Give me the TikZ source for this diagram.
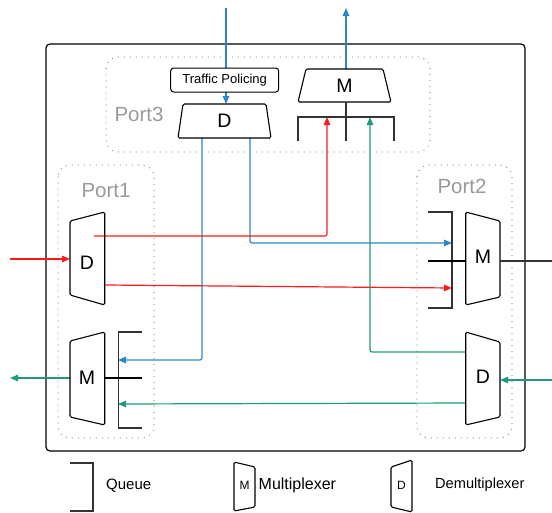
\documentclass[tikz,border=0pt]{standalone}
\usepackage{fontspec}
\setmainfont{Liberation Sans}
\usetikzlibrary{arrows.meta}
\definecolor{cblue}{HTML}{2A88C8}
\definecolor{cteal}{HTML}{1F9A7C}
\definecolor{cred}{HTML}{FF1A1A}
\definecolor{portgray}{HTML}{9A9A9A}
\definecolor{dotgray}{HTML}{8A8A8A}
\definecolor{qgray}{HTML}{333333}
\begin{document}
\begin{tikzpicture}[x=1pt,y=-1pt,
  flow/.style={line width=1.2pt,rounded corners=2pt},
  tipped/.style={-{Triangle[length=8pt,width=6.5pt]}},
  shapebox/.style={draw=black,line width=1.1pt,rounded corners=1.5pt},
  portbox/.style={draw=dotgray,line width=1.3pt,line cap=round,dash pattern=on 0pt off 6pt,rounded corners=12pt},
  portlabel/.style={text=portgray,font=\fontsize{20.5}{23}\selectfont,inner sep=0pt},
  big/.style={font=\fontsize{19.5}{22}\selectfont,inner sep=0pt},
  small/.style={font=\fontsize{12}{14}\selectfont,inner sep=0pt},
  queueline/.style={draw=qgray,line width=1.4pt},
  legend/.style={font=\fontsize{15}{18}\selectfont,anchor=west,inner sep=0pt}]
\useasboundingbox (0,0) rectangle (552,512);

% outer box
\draw[line width=1.2pt,rounded corners=4pt] (46,44) rectangle (525,451);

% ports
\draw[portbox] (106,57) rectangle (430,152);
\draw[portbox] (58,165) rectangle (154,438);
\draw[portbox] (417,165) rectangle (512,438);
\node[portlabel] (lp3) at (139,114) {Port3};
\node[portlabel] (lp1) at (106,191) {Port1};
\node[portlabel] (lp2) at (462,186) {Port2};

% coordinates
\coordinate (inTop) at (226,8);
\coordinate (p3Din) at (226,104);
\coordinate (p3Dout1) at (202,138);
\coordinate (p3Dout2) at (250,138);
\coordinate (p3Mout) at (346,69);
\coordinate (outTop) at (346,8);
\coordinate (p3Qred) at (327,117);
\coordinate (p3Qteal) at (370,117);
\coordinate (inLeft) at (10,259);
\coordinate (p1Din) at (70,259);
\coordinate (p1Dout1) at (94,236);
\coordinate (p1Dout2) at (105,285);
\coordinate (p1Mout) at (70,378);
\coordinate (outLeft) at (10,378);
\coordinate (p1Qblue) at (118,360);
\coordinate (p1Qteal) at (118,404);
\coordinate (p2Qblue) at (452,243);
\coordinate (p2Qred) at (452,288);
\coordinate (p2Mout) at (500,261);
\coordinate (outRight) at (552,261);
\coordinate (inRight) at (552,380);
\coordinate (p2Din) at (500,380);
\coordinate (p2Dout1) at (466,352);
\coordinate (p2Dout2) at (466,403);

% flows
\draw[flow,cblue,tipped] (inTop) -- (p3Din);
\draw[flow,cblue,tipped] (p3Mout) -- (outTop);
\draw[flow,cblue,tipped] (p3Dout1) |- (p1Qblue);
\draw[flow,cblue,tipped] (p3Dout2) |- (p2Qblue);
\draw[flow,cred,tipped] (inLeft) -- (p1Din);
\draw[flow,cred,tipped] (p1Dout1) -| (p3Qred);
\draw[flow,cred,tipped] (p1Dout2) -- (p2Qred);
\draw[flow,cteal,tipped] (inRight) -- (p2Din);
\draw[flow,cteal,tipped] (p2Dout1) -| (p3Qteal);
\draw[flow,cteal,tipped] (p2Dout2) -- (p1Qteal);
\draw[flow,cteal,tipped] (p1Mout) -- (outLeft);

% traffic policing
\node[draw=black,fill=white,line width=1pt,rounded corners=3pt,minimum width=108pt,minimum height=24pt,inner sep=0pt,font=\fontsize{13}{15}\selectfont] (tp) at (224.7,80) {Traffic Policing};

% port3 D and M
\draw[shapebox] (183,104) -- (266,104) -- (271,138) -- (178,138) -- cycle;
\node[big] (p3D) at (224.5,121) {D};
\draw[shapebox] (306,69) -- (383,69) -- (391,102) -- (298,102) -- cycle;
\node[big] (p3M) at (344.5,85.5) {M};
% port3 queue
\draw[queueline] (298,141) -- (298,117) -- (394,117) -- (394,141);
\draw[queueline] (346,102) -- (346,141);

% port1 D and M
\draw[shapebox] (70,221) -- (104.7,212) -- (104.7,305) -- (70,295) -- cycle;
\node[big] (p1D) at (87,263) {D};
\draw[shapebox] (70,341) -- (104.7,332) -- (104.7,425) -- (70,417) -- cycle;
\node[big] (p1M) at (87,378) {M};
% port1 queue
\draw[queueline] (142,332) -- (118.3,332) -- (118.3,428) -- (142,428);
\draw[line width=1.2pt] (104.7,378) -- (142,378);

% port2 M and D
\draw[shapebox] (465.7,212) -- (500,221) -- (500,297) -- (465.7,305) -- cycle;
\node[big] (p2M) at (483,257) {M};
\draw[shapebox] (465.7,332) -- (500,342) -- (500,417) -- (465.7,425) -- cycle;
\node[big] (p2D) at (483,377) {D};
% port2 queue
\draw[queueline] (428,212) -- (452,212) -- (452,308) -- (428,308);
\draw[line width=1.2pt] (428,261) -- (465.7,261);
\draw[line width=1.2pt,draw=qgray] (p2Mout) -- (outRight);

% legend
\draw[queueline] (70,463) -- (93,463) -- (93,511) -- (70,511);
\node[legend] (lq) at (106,486) {Queue};
\draw[shapebox] (234,462) -- (255,467) -- (255,507) -- (234,511) -- cycle;
\node[small] (lmM) at (244.5,485) {M};
\node[legend,font=\fontsize{16}{18}\selectfont] (lm) at (258.5,485) {Multiplexer};
\draw[shapebox] (391,467) -- (412,460) -- (412,512) -- (391,507) -- cycle;
\node[small] (ldD) at (401.5,485) {D};
\node[legend,font=\fontsize{14.6}{18}\selectfont] (ld) at (435,485) {Demultiplexer};
\end{tikzpicture}
\end{document}
